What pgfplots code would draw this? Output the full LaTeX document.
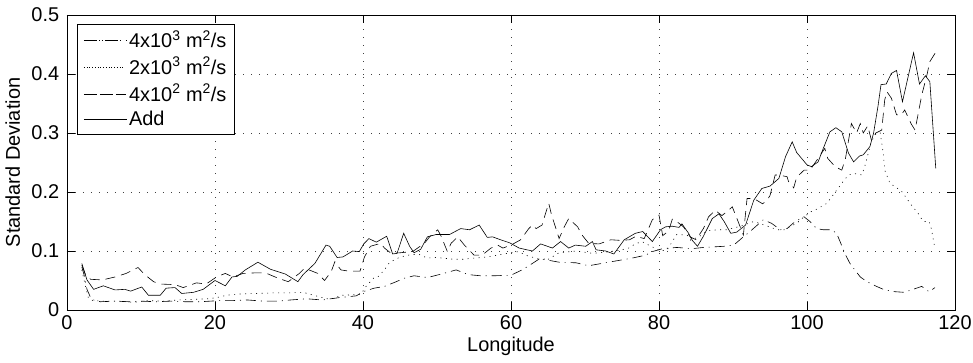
\documentclass[border=0pt]{standalone}
\usepackage{fontspec}
\setmainfont{Liberation Sans}
\usepackage{pgfplots}
\pgfplotsset{compat=1.18}
\begin{document}
\fontsize{20}{24}\selectfont
\begin{tikzpicture}
\begin{axis}[
  name=ax,
  width=888bp, height=295bp, scale only axis,
  xmin=0, xmax=120, ymin=0, ymax=0.5,
  xtick={0,20,40,60,80,100,120},
  ytick={0,0.1,0.2,0.3,0.4,0.5},
  yticklabels={0,0.1,0.2,0.3,0.4,0.5},
  /pgf/number format/assume math mode=true,
  tick align=inside, major tick length=8bp,
  tick style={line width=0.6pt, black},
  axis line style={line width=0.9pt},
  grid=major,
  grid style={line width=0.7pt, dash pattern=on 0.9bp off 7.1bp, black!75},
  xlabel={Longitude}, ylabel={Standard Deviation},
  xlabel style={yshift=6bp},
  ylabel style={yshift=-2bp},
  tick label style={font=\fontsize{20}{24}\selectfont},
  xticklabel style={yshift=1bp},
  yticklabel style={xshift=-1bp},
  label style={font=\fontsize{20}{24}\selectfont},
  legend cell align=left,
  legend style={at={(0.0113,0.9695)}, anchor=north west, draw=black, line width=0.9pt,
    font=\fontsize{20}{24}\selectfont, inner xsep=6bp, inner ysep=4bp, row sep=2.5bp},
  legend image code/.code={\path (-3bp,0bp) -- (40bp,0bp); \draw[#1, line width=0.6pt] (0bp,0bp) -- (34bp,0bp);},
  every axis plot/.append style={line width=0.6pt, black},
]
% 4x10^3 (dash-dot)
\addplot[dash pattern=on 10bp off 5bp on 1bp off 5bp] coordinates {
(2,0.073)(2.3,0.060)(2.7,0.035)(3.3,0.018)(4.5,0.014)(6.5,0.015)(8.4,0.014)(10,0.015)
(12,0.014)(14,0.015)(16,0.014)(18,0.014)(20.7,0.016)(22.5,0.016)(24.4,0.017)(26.5,0.015)
(28.5,0.015)(30.2,0.017)(32.4,0.019)(34.5,0.017)(36.8,0.021)(39.1,0.024)(40,0.031)
(41.5,0.037)(42.9,0.040)(44.3,0.047)(45.6,0.054)(46.9,0.058)(48.7,0.055)(50.6,0.061)
(52.6,0.068)(54.2,0.060)(55.9,0.058)(57.7,0.058)(60.0,0.059)(61.5,0.068)(62.9,0.079)
(64.0,0.088)(65.2,0.084)(66.5,0.081)(68.8,0.080)(70.5,0.075)(72.3,0.079)(74.1,0.083)
(76.4,0.088)(78.2,0.093)(79.1,0.099)(80.5,0.104)(82.4,0.106)(84.5,0.104)(86,0.106)
(87.4,0.107)(88.8,0.108)(90.1,0.110)(91.4,0.124)(92.3,0.133)(94.1,0.153)(95.2,0.147)
(96.4,0.136)(97.3,0.138)(98.4,0.150)(99.6,0.158)(100.4,0.150)(101.3,0.138)(102.2,0.136)
(103.3,0.136)(104.0,0.130)(104.5,0.115)(105.1,0.096)(105.8,0.079)(106.4,0.069)(107.2,0.056)
(108.1,0.048)(109.4,0.040)(110.5,0.034)(111.9,0.031)(113.1,0.030)(114.1,0.034)(115.5,0.040)
(116.5,0.031)(117.3,0.038)
};
\addlegendentry{4x10\textsuperscript{3} m\textsuperscript{2}/s}
% 2x10^3 (dotted)
\addplot[dash pattern=on 1bp off 4.5bp] coordinates {
(2,0.068)(2.5,0.040)(2.9,0.020)(3.5,0.016)(5,0.015)(7,0.015)(9,0.013)(11,0.016)(13,0.015)
(15,0.017)(17,0.018)(19,0.019)(20.2,0.021)(21.6,0.025)(23,0.027)(25.5,0.028)(28,0.029)
(30,0.029)(31.9,0.030)(33.9,0.023)(35.5,0.018)(37.2,0.025)(39,0.026)(39.8,0.027)(40.2,0.037)
(41.5,0.055)(42,0.056)(42.9,0.068)(43.5,0.079)(44.2,0.085)(45.1,0.090)(46.5,0.094)(47.6,0.094)
(48.7,0.088)(49.9,0.089)(52.3,0.086)(53.5,0.086)(55,0.088)(56.1,0.089)(57.3,0.091)(58.6,0.094)
(59.9,0.097)(61,0.099)(62.2,0.092)(63.6,0.087)(64.9,0.085)(66.5,0.097)(68.8,0.100)(71,0.096)
(72.8,0.098)(74.6,0.101)(75.9,0.105)(76.8,0.112)(77.7,0.116)(78.6,0.110)(80.2,0.100)(81.1,0.102)
(82.4,0.128)(83.8,0.127)(84.3,0.118)(85.5,0.125)(86.5,0.134)(87.9,0.136)(89.2,0.136)(91.0,0.142)
(92.8,0.150)(94,0.145)(96.0,0.136)(96.9,0.136)(98.6,0.147)(99.6,0.158)(100.6,0.167)(101.5,0.172)
(102.7,0.181)(104.0,0.203)(104.9,0.218)(105.6,0.229)(106.5,0.231)(107.4,0.229)(107.8,0.243)
(108.7,0.286)(109.4,0.300)(109.9,0.300)(110.3,0.266)(110.5,0.237)(111.2,0.215)(112.8,0.201)
(114.1,0.178)(115.0,0.164)(115.7,0.150)(116.5,0.150)(116.8,0.138)(117.2,0.110)
};
\addlegendentry{2x10\textsuperscript{3} m\textsuperscript{2}/s}
% 4x10^2 (dashed)
\addplot[dash pattern=on 10bp off 6bp] coordinates {
(2,0.076)(2.5,0.060)(3.2,0.052)(4.8,0.051)(6.5,0.056)(8.0,0.062)(9.6,0.072)(10.5,0.060)
(11.7,0.048)(12.6,0.044)(14.6,0.043)(15.7,0.038)(17.5,0.046)(18.8,0.044)(20.2,0.056)(21.4,0.062)
(22.4,0.056)(23.8,0.062)(25.6,0.063)(26.8,0.063)(28.5,0.054)(29.9,0.048)(31.4,0.062)(32.1,0.071)
(33.9,0.062)(34.8,0.050)(35.7,0.065)(36.2,0.082)(37.0,0.068)(38.0,0.066)(39.6,0.066)(40.2,0.090)
(41.0,0.108)(42.4,0.113)(42.9,0.105)(43.8,0.096)(45.0,0.097)(46.7,0.099)(48.3,0.113)(49.0,0.124)
(50.1,0.136)(50.6,0.124)(51.4,0.099)(51.9,0.113)(52.8,0.124)(53.7,0.110)(55.0,0.093)(56.1,0.093)
(57.3,0.105)(58.2,0.110)(58.9,0.105)(60.0,0.110)(61.3,0.119)(62.4,0.138)(62.9,0.144)(63.4,0.138)
(64.2,0.144)(64.7,0.165)(65.1,0.181)(65.5,0.160)(66.0,0.141)(66.5,0.121)(67.2,0.141)(67.8,0.155)
(69.0,0.141)(69.6,0.127)(70.5,0.113)(71.9,0.112)(73.5,0.119)(74.8,0.118)(76.0,0.119)(76.9,0.125)
(78.0,0.121)(79.1,0.153)(80.0,0.161)(80.5,0.126)(81.3,0.134)(81.8,0.154)(82.4,0.150)(83.3,0.141)
(84.2,0.124)(85.0,0.119)(86.0,0.138)(86.7,0.158)(87.6,0.169)(88.5,0.160)(89.4,0.169)(89.9,0.175)
(91.0,0.140)(91.4,0.127)(91.9,0.189)(92.8,0.189)(94.0,0.180)(94.6,0.186)(95.0,0.194)(95.7,0.229)
(96.5,0.228)(97.3,0.226)(97.5,0.218)(98.2,0.207)(98.6,0.225)(99.6,0.237)(100.4,0.237)(101.5,0.257)
(102.4,0.274)(102.8,0.257)(103.8,0.243)(104.7,0.237)(105.2,0.257)(106.0,0.316)(106.7,0.300)
(107.2,0.316)(107.6,0.300)(108.2,0.312)(108.7,0.288)(109.3,0.300)(110.1,0.305)(110.5,0.356)
(110.8,0.370)(111.4,0.359)(112.1,0.331)(112.7,0.330)(113.2,0.339)(114.1,0.315)(114.6,0.305)
(115.0,0.331)(115.5,0.364)(116.2,0.398)(116.6,0.421)(117.3,0.435)
};
\addlegendentry{4x10\textsuperscript{2} m\textsuperscript{2}/s}
% Add (solid)
\addplot[solid] coordinates {
(2,0.079)(2.7,0.051)(3.6,0.035)(4.9,0.041)(6.5,0.034)(7.8,0.035)(8.6,0.032)(10.1,0.039)
(11,0.025)(12.6,0.025)(13.4,0.037)(14.6,0.038)(15.5,0.028)(17.1,0.030)(18.4,0.035)(20,0.050)
(21.4,0.041)(22.3,0.056)(23,0.057)(24.1,0.068)(25.8,0.081)(27.5,0.069)(29.5,0.061)(31.2,0.048)
(31.9,0.060)(33.5,0.079)(35.0,0.110)(35.5,0.108)(36.5,0.089)(37.3,0.090)(38.6,0.100)(39.5,0.099)
(40.1,0.112)(40.8,0.121)(41.8,0.115)(43.2,0.125)(44.0,0.095)(44.6,0.096)(45.5,0.130)(46.3,0.108)
(46.9,0.097)(47.8,0.103)(48.7,0.124)(49.9,0.128)(51.7,0.128)(53.2,0.138)(54.4,0.136)(55.7,0.144)
(56.8,0.123)(57.5,0.124)(58.6,0.119)(59.8,0.114)(61.1,0.105)(61.8,0.103)(62.9,0.100)(64.0,0.112)
(65.6,0.105)(66.7,0.116)(67.8,0.105)(68.7,0.110)(70.1,0.108)(71.0,0.116)(71.5,0.102)(72.8,0.100)
(73.9,0.095)(75.3,0.119)(76.8,0.130)(77.8,0.133)(79.1,0.116)(80.2,0.136)(80.9,0.141)(81.8,0.142)
(82.7,0.140)(83.1,0.146)(84.0,0.130)(84.5,0.118)(85.2,0.108)(86.0,0.125)(87.2,0.155)(88.1,0.163)
(88.8,0.150)(89.7,0.130)(90.5,0.132)(91.7,0.144)(92.8,0.186)(93.9,0.206)(95.0,0.210)(96.2,0.223)
(97.1,0.260)(98.0,0.285)(98.6,0.267)(100.0,0.246)(100.6,0.243)(101.5,0.251)(102.2,0.274)
(103.1,0.302)(103.9,0.309)(104.7,0.302)(105.6,0.266)(106.3,0.251)(107.1,0.261)(107.6,0.263)
(108.5,0.277)(109.0,0.300)(109.6,0.346)(110.0,0.382)(110.7,0.383)(111.4,0.401)(112.1,0.406)
(112.9,0.353)(114.4,0.436)(115.2,0.383)(116.0,0.397)(116.6,0.387)(117.4,0.240)
};
\addlegendentry{Add}
\end{axis}
\pgfresetboundingbox
\path ([xshift=-67bp,yshift=-53bp]ax.south west) rectangle ([xshift=18bp,yshift=15bp]ax.north east);
\end{tikzpicture}
\end{document}
